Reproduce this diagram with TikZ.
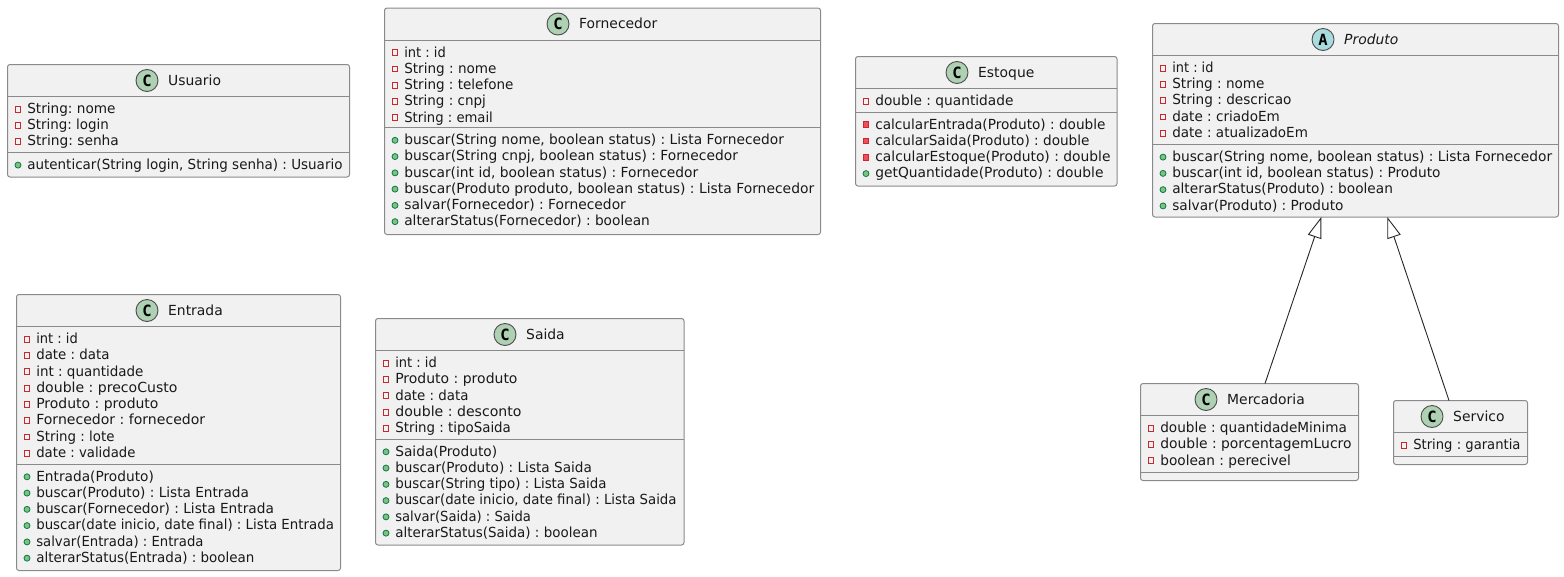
\documentclass[tikz,border=0pt]{standalone}
\usepackage{graphicx}
\usepackage{fontspec}
\setmainfont{DejaVu Sans}
\setmonofont{DejaVu Sans Mono}
\usetikzlibrary{arrows.meta,calc}
\definecolor{boxfill}{HTML}{F1F1F1}
\definecolor{boxline}{HTML}{8A8A8A}
\definecolor{cgreen}{HTML}{ADD1B2}
\definecolor{ablue}{HTML}{A9DCDF}
\definecolor{privred}{HTML}{C82930}
\definecolor{privfill}{HTML}{F24D5C}
\definecolor{pubgreen}{HTML}{84BE84}
\definecolor{publine}{HTML}{038048}
\newcommand{\txtsize}{\frenchspacing\fontsize{13.9}{16}\selectfont}
\tikzset{
 classbox/.style={draw=boxline,fill=boxfill,line width=1pt,rounded corners=2.5pt,inner sep=0pt,outer sep=0pt},
 sepline/.style={draw=boxline,line width=1pt},
 rowtext/.style={anchor=base west,inner sep=0pt,font=\txtsize,text=black!90},
 titletext/.style={anchor=base west,inner sep=0pt,font=\txtsize,text=black!90},
 badge/.style={circle,draw=black!70,line width=.9pt,minimum size=22pt,inner sep=0pt,font=\ttfamily\bfseries\fontsize{15.5}{15.5}\selectfont},
 privicon/.style={rectangle,draw=privred,fill=boxfill,line width=1pt,minimum size=5.8pt,inner sep=0pt},
 privmeth/.style={rectangle,draw=privred,fill=privfill,line width=1pt,minimum size=5.8pt,inner sep=0pt},
 pubicon/.style={circle,draw=publine,fill=pubgreen,line width=.8pt,minimum size=6pt,inner sep=0pt},
 ext/.style={draw=black!85,line width=.9pt,-{Triangle[open,fill=white,length=21pt,width=14pt]}}
}
% id, x0, y0, x1, y1, header y, divider y
\newcommand{\classbox}[7]{%
  \pgfmathsetmacro{\bw}{#4-#2}\pgfmathsetmacro{\bh}{#5-#3}%
  \node[classbox,minimum width=\bw pt,minimum height=\bh pt] (#1) at ({(#2+#4)/2},{(#3+#5)/2}) {};
  \draw[sepline] (#1.west |- 0,#6) -- (#1.east |- 0,#6);
  \draw[sepline] (#1.west |- 0,#7) -- (#1.east |- 0,#7);
}
% id, badge cx, cy, letter, colour, title
\newcommand{\classtitle}[6]{%
  \node[badge,fill=#5] (#1-badge) at (#2,#3) {#4};
  \node[titletext] (#1-title) at ({#2+21},{#3+4.6}) {#6};
}
% id, icon style, x0, first base y, list of text/right end
\newcommand{\classrows}[5]{%
  \foreach \t/\e [count=\i from 0] in {#5} {
    \pgfmathsetmacro{\by}{#4+16.27*\i}
    \pgfmathsetmacro{\rw}{\e-#3-19.6}
    \node[#2] (#1-#2-i\i) at ({#3+10.5},{\by-4.2}) {};
    \node[rowtext] (#1-#2-t\i) at ({#3+19.6},\by) {\resizebox{\rw pt}{\height}{\t}};
  }
}
\begin{document}
\begin{tikzpicture}[x=1pt,y=-1pt]
\useasboundingbox (0,0) rectangle (1564,576);
\classbox{usuario}{7.5}{64.5}{349.5}{177}{96.3}{152.3}
\classtitle{usuario}{147}{80.5}{C}{cgreen}{Usuario}
\classrows{usuario}{privicon}{7.5}{113.3}{String: nome/115.3,String: login/108.7,String: senha/118.7}
\classrows{usuario}{pubicon}{7.5}{169.3}{{autenticar(String login, String senha) : Usuario}/342.3}

\classbox{fornecedor}{384.5}{8}{820.5}{234.5}{40}{127.5}
\classtitle{fornecedor}{558}{24}{C}{cgreen}{Fornecedor}
\classrows{fornecedor}{privicon}{384.5}{57}{int : id/445.7,String : nome/496.3,String : telefone/513.3,String : cnpj/485.7,String : email/492.7}
\classrows{fornecedor}{pubicon}{384.5}{144.5}{{buscar(String nome, boolean status) : Lista Fornecedor}/783.7,{buscar(String cnpj, boolean status) : Fornecedor}/737.7,{buscar(int id, boolean status) : Fornecedor}/698,{buscar(Produto produto, boolean status) : Lista Fornecedor}/814,salvar(Fornecedor) : Fornecedor/625.7,alterarStatus(Fornecedor) : boolean/649.7}

\classbox{estoque}{855.5}{56.5}{1117}{186}{88.5}{112}
\classtitle{estoque}{957}{72.5}{C}{cgreen}{Estoque}
\classrows{estoque}{privicon}{855.5}{105.5}{double : quantidade/1013.3}
\classrows{estoque}{privmeth}{855.5}{129}{calcularEntrada(Produto) : double/1105.3,calcularSaida(Produto) : double/1089.3,calcularEstoque(Produto) : double/1110.3}
\classrows{estoque}{pubicon}{855.5}{177.8}{getQuantidade(Produto) : double/1103.3}

\classbox{produto}{1152.5}{23.5}{1558.5}{217}{55.3}{144.3}
\classtitle{produto}{1323}{39.5}{A}{ablue}{\itshape Produto}
\classrows{produto}{privicon}{1152.5}{72.3}{int : id/1213.3,String : nome/1264.3,String : descricao/1291.3,date : criadoEm/1279.7,date : atualizadoEm/1307.7}
\classrows{produto}{pubicon}{1152.5}{161.3}{{buscar(String nome, boolean status) : Lista Fornecedor}/1552,{buscar(int id, boolean status) : Produto}/1440.3,alterarStatus(Produto) : boolean/1392.7,salvar(Produto) : Produto/1343.3}

\classbox{entrada}{16.5}{294.5}{340.5}{570.5}{326.5}{464}
\classtitle{entrada}{147}{310.5}{C}{cgreen}{Entrada}
\classrows{entrada}{privicon}{16.5}{343.5}{int : id/77.7,date : data/109.3,int : quantidade/143.3,double : precoCusto/177.3,Produto : produto/158.3,Fornecedor : fornecedor/205,String : lote/114.3,date : validade/135.3}
\classrows{entrada}{pubicon}{16.5}{481}{Entrada(Produto)/153.7,buscar(Produto) : Lista Entrada/248.7,buscar(Fornecedor) : Lista Entrada/273.7,{buscar(date inicio, date final) : Lista Entrada}/333.7,salvar(Entrada) : Entrada/203.3,alterarStatus(Entrada) : boolean/254.3}

\classbox{saida}{375.5}{318.5}{684}{545}{350.5}{439}
\classtitle{saida}{505}{334.5}{C}{cgreen}{Saida}
\classrows{saida}{privicon}{375.5}{367.5}{int : id/436.7,Produto : produto/517.3,date : data/468.3,double : desconto/521.3,String : tipoSaida/510.7}
\classrows{saida}{pubicon}{375.5}{456}{Saida(Produto)/497,buscar(Produto) : Lista Saida/591.7,buscar(String tipo) : Lista Saida/606.3,{buscar(date inicio, date final) : Lista Saida}/676.3,salvar(Saida) : Saida/530.7,alterarStatus(Saida) : boolean/597.3}

\classbox{mercadoria}{1140.5}{383.5}{1358.5}{480.5}{415.5}{472.5}
\classtitle{mercadoria}{1206}{399.5}{C}{cgreen}{Mercadoria}
\classrows{mercadoria}{privicon}{1140.5}{432.5}{double : quantidadeMinima/1346.7,double : porcentagemLucro/1351.3,boolean : perecivel/1290.7}

\classbox{servico}{1393.5}{400.5}{1527.5}{464.5}{432.5}{456.5}
\classtitle{servico}{1432}{416.5}{C}{cgreen}{Servico}
\classrows{servico}{privicon}{1393.5}{449.5}{String : garantia/1520.3}

\draw[ext] ([xshift=15.5pt]mercadoria.north) -- ([xshift=-34.2pt]produto.south);
\draw[ext] ([xshift=-11.5pt]servico.north) -- ([xshift=31.8pt]produto.south);
\end{tikzpicture}
\end{document}
